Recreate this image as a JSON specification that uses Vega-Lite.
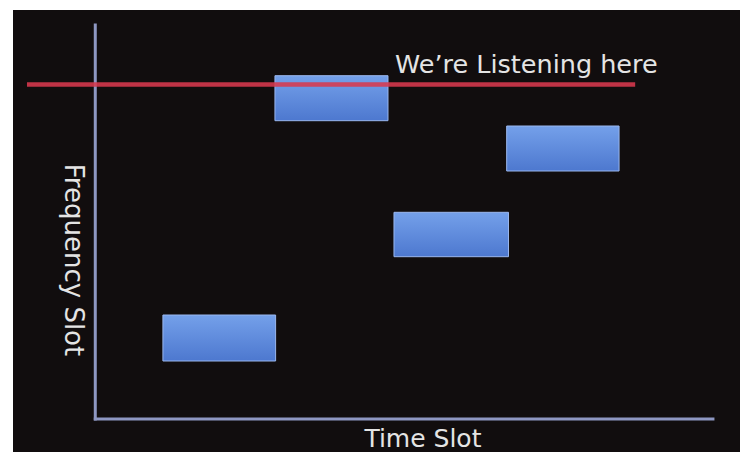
{
  "$schema": "https://vega.github.io/schema/vega-lite/v6.json",
  "width": 727,
  "height": 442,
  "autosize": {"type": "none"},
  "padding": {"left": 13, "top": 10, "right": 0, "bottom": 0},
  "background": "#ffffff",
  "view": {"fill": "#110d0e", "stroke": null},
  "config": {"font": "DejaVu Sans"},
  "datasets": {
    "hops": [
      {"hop": "A", "t0": 0.6, "t1": 1.6, "f0": 0.58, "f1": 1.04},
      {"hop": "B", "t0": 1.594, "t1": 2.597, "f0": 2.983, "f1": 3.433},
      {"hop": "C", "t0": 2.65, "t1": 3.666, "f0": 1.623, "f1": 2.067},
      {"hop": "D", "t0": 3.65, "t1": 4.647, "f0": 2.48, "f1": 2.93}
    ],
    "axes": [
      {"name": "time", "x0": 0, "x1": 5.48, "y0": 0, "y1": 0},
      {"name": "frequency", "x0": 0, "x1": 0, "y0": 0, "y1": 3.94}
    ],
    "listen": [
      {"x0": -0.606, "x1": 4.79, "y": 3.345}
    ],
    "labels": [
      {"kind": "listen", "text": "We’re Listening here", "x": 2.659, "y": 3.46},
      {"kind": "xtitle", "text": "Time Slot", "x": 2.907, "y": -0.275},
      {"kind": "ytitle", "text": "Frequency Slot", "x": -0.272, "y": 1.59}
    ]
  },
  "layer": [
    {
      "data": {"name": "axes"},
      "mark": {"type": "rule", "color": "#8e97c2", "strokeWidth": 3, "strokeCap": "square"},
      "encoding": {
        "x": {"field": "x0", "type": "quantitative", "scale": {"domain": [-0.73, 5.72], "nice": false, "zero": false}, "axis": null},
        "x2": {"field": "x1"},
        "y": {"field": "y0", "type": "quantitative", "scale": {"domain": [-0.33, 4.09], "nice": false, "zero": false}, "axis": null},
        "y2": {"field": "y1"}
      }
    },
    {
      "data": {"name": "hops"},
      "mark": {
        "type": "rect",
        "stroke": "#9ab7ee",
        "strokeWidth": 1,
        "color": {
          "gradient": "linear",
          "x1": 0, "y1": 0, "x2": 0, "y2": 1,
          "stops": [
            {"offset": 0, "color": "#74a0ea"},
            {"offset": 1, "color": "#4d78cf"}
          ]
        }
      },
      "encoding": {
        "x": {"field": "t0", "type": "quantitative"},
        "x2": {"field": "t1"},
        "y": {"field": "f0", "type": "quantitative"},
        "y2": {"field": "f1"}
      }
    },
    {
      "data": {"name": "listen"},
      "mark": {"type": "rule", "color": "#d8394f", "strokeWidth": 4.5, "opacity": 0.88},
      "encoding": {
        "x": {"field": "x0", "type": "quantitative"},
        "x2": {"field": "x1"},
        "y": {"field": "y", "type": "quantitative"}
      }
    },
    {
      "data": {"name": "labels"},
      "transform": [{"filter": "datum.kind === 'listen'"}],
      "mark": {"type": "text", "align": "left", "baseline": "alphabetic", "fontSize": 25.5, "color": "#e4e4e4"},
      "encoding": {
        "x": {"field": "x", "type": "quantitative"},
        "y": {"field": "y", "type": "quantitative"},
        "text": {"field": "text"}
      }
    },
    {
      "data": {"name": "labels"},
      "transform": [{"filter": "datum.kind === 'xtitle'"}],
      "mark": {"type": "text", "align": "center", "baseline": "alphabetic", "fontSize": 25, "color": "#e4e4e4"},
      "encoding": {
        "x": {"field": "x", "type": "quantitative"},
        "y": {"field": "y", "type": "quantitative"},
        "text": {"field": "text"}
      }
    },
    {
      "data": {"name": "labels"},
      "transform": [{"filter": "datum.kind === 'ytitle'"}],
      "mark": {"type": "text", "align": "center", "baseline": "alphabetic", "angle": 90, "fontSize": 26, "color": "#e4e4e4"},
      "encoding": {
        "x": {"field": "x", "type": "quantitative"},
        "y": {"field": "y", "type": "quantitative"},
        "text": {"field": "text"}
      }
    }
  ]
}
